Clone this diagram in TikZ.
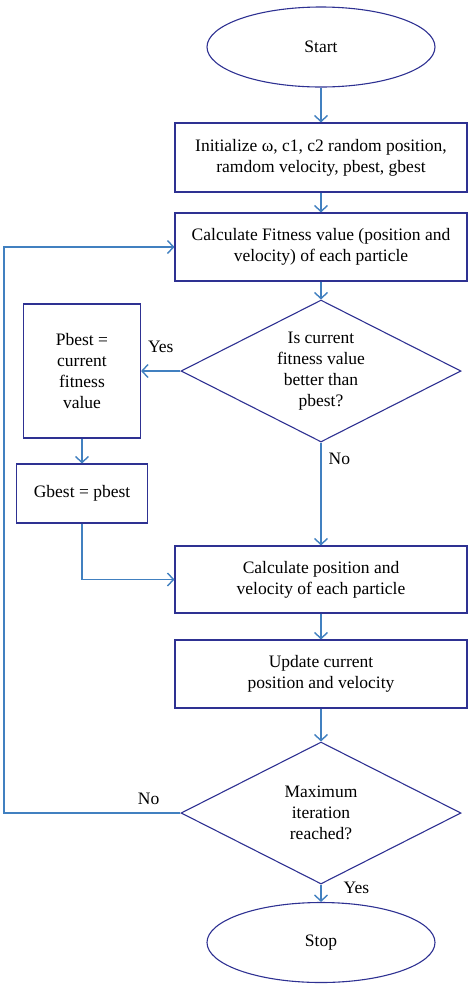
\documentclass[tikz,border=0pt]{standalone}
\usepackage{fontspec}
\setmainfont{Liberation Serif}
\usepackage{tikz}
\usetikzlibrary{arrows.meta,positioning,calc,shapes.geometric}
\definecolor{edgenavy}{RGB}{46,49,146}
\definecolor{flowblue}{RGB}{65,128,192}

\begin{document}
\begin{tikzpicture}[x=1pt,y=-1pt,
  every node/.style={font=\fontsize{17.5}{21}\selectfont, align=center},
  box/.style={draw=edgenavy, line width=1.1pt, rectangle, inner sep=0pt},
  term/.style={draw=edgenavy, line width=1.1pt, ellipse, inner sep=0pt, minimum width=228pt, minimum height=80pt},
  decide/.style={draw=edgenavy, line width=1.1pt, diamond, aspect=2, inner sep=0pt, minimum width=280pt, minimum height=142pt},
  flow/.style={draw=flowblue, line width=1.4pt, -{Straight Barb[length=6pt,width=13pt]}},
  lbl/.style={inner sep=3pt}]
\useasboundingbox (0,0) rectangle (468,994);

\node[term] (start) at (321,47) {Start};
\node[box, minimum width=292pt, minimum height=69pt] (init) at (321,157.5) {Initialize ω, c1, c2 random position,\\ramdom velocity, pbest, gbest};
\node[box, minimum width=292pt, minimum height=68pt] (fit) at (321,247) {Calculate Fitness value (position and\\velocity) of each particle};
\node[decide] (chk) at (321,371) {Is current\\fitness value\\better than\\pbest?};
\node[box, minimum width=117pt, minimum height=134pt] (pb) at (82,371) {Pbest =\\current\\fitness\\value};
\node[box, minimum width=131pt, minimum height=59pt] (gb) at (82,493.5) {Gbest = pbest};
\node[box, minimum width=292pt, minimum height=67pt] (calc) at (321,579.5) {Calculate position and\\velocity of each particle};
\node[box, minimum width=292pt, minimum height=68pt] (upd) at (321,674) {Update current\\position and velocity};
\node[decide] (max) at (321,813) {Maximum\\iteration\\reached?};
\node[term] (stop) at (321,942.5) {Stop};
\coordinate (loop) at (4,813);

\draw[flow] (start) -- (init);
\draw[flow] (init) -- (fit);
\draw[flow] (fit) -- (chk);
\draw[flow] (chk.west) -- node[lbl, above=15pt] {Yes} (pb.east);
\draw[flow] (pb) -- (gb);
\draw[flow] (chk.south) -- node[lbl, pos=0.16, right=4pt] {No} (calc.north);
\draw[flow] (gb.south) |- (calc.west);
\draw[flow] (calc) -- (upd);
\draw[flow] (upd) -- (max);
\draw[flow] (max.south) -- node[lbl, pos=0.2, right=19pt] {Yes} (stop.north);
\draw[flow] (max.west) -- node[lbl, pos=0.18, above=5pt] {No} (loop) |- (fit.west);
\end{tikzpicture}
\end{document}
